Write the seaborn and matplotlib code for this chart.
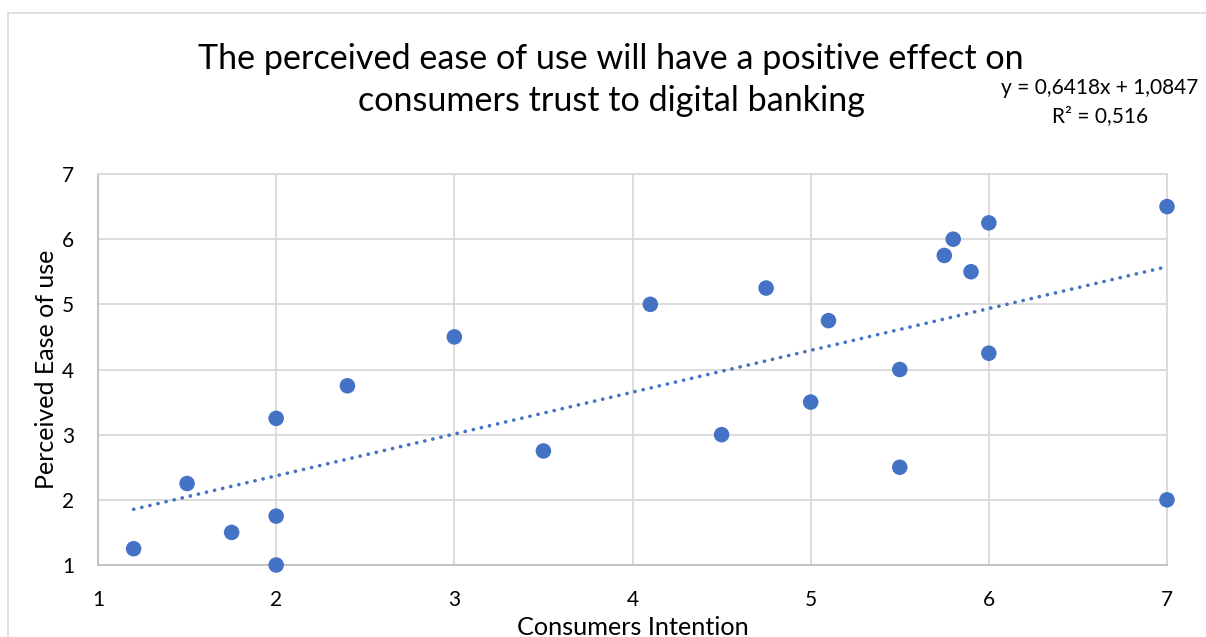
import numpy as np
import pandas as pd
import matplotlib
matplotlib.use("Agg")
import matplotlib.pyplot as plt
from matplotlib.patches import Rectangle
import seaborn as sns

# Survey responses: consumers' intention vs. perceived ease of use
intention = [1.2, 1.5, 1.75, 2, 2, 2, 2.4, 3, 3.5, 4.1, 4.5, 4.75,
             5, 5.1, 5.5, 5.5, 5.75, 5.8, 5.9, 6, 6, 7, 7]
ease_of_use = [1.25, 2.25, 1.5, 3.25, 1.75, 1, 3.75, 4.5, 2.75, 5, 3, 5.25,
               3.5, 4.75, 4, 2.5, 5.75, 6, 5.5, 6.25, 4.25, 6.5, 2]

# Linear trendline coefficients
slope = 0.6418
intercept = 1.0847
r_squared = 0.516

tick_values = [1, 2, 3, 4, 5, 6, 7]

df = pd.DataFrame({"Consumers Intention": intention,
                   "Perceived Ease of use": ease_of_use})

sns.set_theme(style="white")
plt.rcParams["font.family"] = ["Lato", "DejaVu Sans"]

blue = "#4472c4"
fig = plt.figure(figsize=(12.06, 6.37), dpi=100)
ax = fig.add_axes([98 / 1206, 1 - 565 / 637, (1167 - 98) / 1206, (565 - 174) / 637])

# Chart frame
fig.patches.append(Rectangle((8 / 1206, -0.1), 1.2, 1 - 13 / 637 + 0.1,
                             transform=fig.transFigure, fill=False,
                             edgecolor="#d9d9d9", linewidth=1.2))

sns.scatterplot(data=df, x="Consumers Intention", y="Perceived Ease of use",
                ax=ax, color=blue, s=125, edgecolor="none", zorder=3,
                clip_on=False)

# Trendline over the observed range
xs = np.linspace(min(intention), max(intention), 50)
trend = pd.DataFrame({"x": xs, "y": slope * xs + intercept})
sns.lineplot(data=trend, x="x", y="y", ax=ax, color=blue, linewidth=2.6,
             linestyle=(0, (0.05, 2.25)), dash_capstyle="round", zorder=2)

ax.set_xlim(1, 7)
ax.set_ylim(1, 7)
ax.set_xticks(tick_values)
ax.set_yticks(tick_values)
ax.set_xticklabels([str(v) for v in tick_values], fontsize=15)
ax.set_yticklabels([str(v) for v in tick_values], fontsize=15)
ax.tick_params(axis="x", length=0, pad=18, colors="#000000")
ax.tick_params(axis="y", length=0, pad=17, colors="#000000")
ax.grid(True, color="#d9d9d9", linewidth=1.3)
ax.set_axisbelow(True)
for side, sp in ax.spines.items():
    sp.set_visible(True)
    sp.set_linewidth(1.3)
    sp.set_color("#bfbfbf" if side in ("left", "bottom") else "#d9d9d9")

ax.set_xlabel("Consumers Intention", fontsize=18.2, labelpad=4.5, color="#000000")
ax.set_ylabel("Perceived Ease of use", fontsize=18, labelpad=3, color="#000000")

fig.text(611 / 1206, 1 - 80 / 637,
         "The perceived ease of use will have a positive effect on\n"
         "consumers trust to digital banking",
         ha="center", va="center", fontsize=24.6, linespacing=1.35, color="#000000")

fig.text(1100 / 1206, 1 - 102 / 637,
         f"y = {slope:.4f}x + {intercept:.4f}".replace(".", ",")
         + "\n" + f"R² = {r_squared:.3f}".replace(".", ","),
         ha="center", va="center", fontsize=15, linespacing=1.45, color="#000000")

fig.savefig("out.png", dpi=100, facecolor="white")
